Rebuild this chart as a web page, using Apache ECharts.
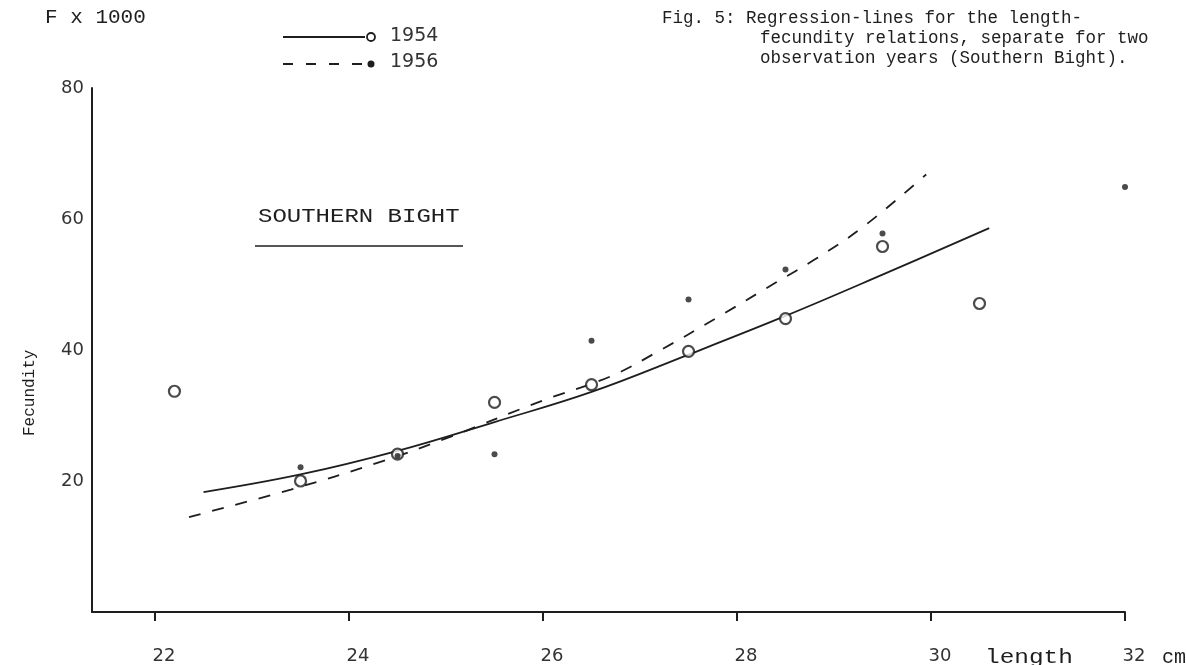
<!DOCTYPE html>
<html>
<head>
<meta charset="utf-8">
<script src="https://cdn.jsdelivr.net/npm/echarts@6/dist/echarts.min.js"></script>
<style>
html,body{margin:0;padding:0;background:#fff;}
#chart{width:1186px;height:665px;}
</style>
</head>
<body>
<div id="chart"></div>
<script>
// ---- data ----
const xTicks = [22, 24, 26, 28, 30, 32];
const yTicks = [20, 40, 60, 80];

// observed points, 1954 (open circles)
const obs1954X = [22.2, 23.5, 24.5, 25.5, 26.5, 27.5, 28.5, 29.5, 30.5];
const obs1954Y = [33.7, 20.0, 24.1, 32.0, 34.7, 39.8, 44.8, 55.8, 47.1];

// observed points, 1956 (dots)
const obs1956X = [23.5, 24.5, 25.5, 26.5, 27.5, 28.5, 29.5, 32.0];
const obs1956Y = [22.1, 23.8, 24.1, 41.4, 47.7, 52.3, 57.8, 64.9];

// regression line 1954 (solid)
const reg1954X = [22.5, 23.5, 24.5, 25.5, 26.5, 27.5, 28.5, 29.5, 30.6];
const reg1954Y = [18.3, 21.0, 24.6, 29.0, 33.6, 39.3, 45.2, 51.5, 58.6];

// regression line 1956 (dashed)
const reg1956X = [22.35, 23.4, 24.3, 25.0, 26.0, 26.7, 27.2, 27.8, 28.4, 28.8, 29.3, 29.95];
const reg1956Y = [14.5, 18.7, 22.8, 26.5, 32.3, 36.0, 39.9, 45.0, 50.3, 53.8, 58.8, 66.8];

const zip = (a, b) => a.map((v, i) => [v, b[i]]);

const INK = '#1e1e1e';
const MONO = '"Liberation Mono", "DejaVu Sans Mono", monospace';
const SANS = '"DejaVu Sans", "Liberation Sans", sans-serif';

const chart = echarts.init(document.getElementById('chart'), null, {renderer: 'canvas'});
chart.setOption({
  backgroundColor: '#ffffff',
  animation: false,
  grid: {left: 92, right: 61, top: 88, bottom: 53, containLabel: false},
  xAxis: {
    type: 'value', min: 21.35, max: 32,
    axisLine: {show: true, lineStyle: {color: INK, width: 2}},
    axisTick: {show: true, customValues: xTicks, length: 9, lineStyle: {color: INK, width: 2}},
    axisLabel: {customValues: xTicks, color: '#333', fontFamily: SANS, fontSize: 18, margin: 35, padding: [0, 0, 0, 18]},
    splitLine: {show: false}
  },
  yAxis: {
    type: 'value', min: 0, max: 80,
    axisLine: {show: true, lineStyle: {color: INK, width: 2}},
    axisTick: {show: false},
    axisLabel: {customValues: yTicks, color: '#333', fontFamily: SANS, fontSize: 18, margin: 8},
    splitLine: {show: false}
  },
  series: [
    {
      name: '1954 regression', type: 'line', data: zip(reg1954X, reg1954Y),
      smooth: 0.4, showSymbol: false, symbol: 'none',
      lineStyle: {color: INK, width: 1.8, type: 'solid'}, z: 2
    },
    {
      name: '1956 regression', type: 'line', data: zip(reg1956X, reg1956Y),
      smooth: 0.4, showSymbol: false, symbol: 'none',
      lineStyle: {color: INK, width: 1.8, type: [12, 12]}, z: 2
    },
    {
      name: '1954', type: 'scatter', data: zip(obs1954X, obs1954Y),
      symbol: 'circle', symbolSize: 11,
      itemStyle: {color: '#ffffff', borderColor: INK, borderWidth: 2.2}, z: 3
    },
    {
      name: '1956', type: 'scatter', data: zip(obs1956X, obs1956Y),
      symbol: 'circle', symbolSize: 6,
      itemStyle: {color: INK}, z: 4
    }
  ],
  graphic: [
    {type: 'text', x: 45, y: 8, scaleX: 1.05, style: {text: 'F x 1000', font: '20px ' + MONO, fill: INK}},
    {type: 'text', x: 662, y: 9, style: {text: 'Fig. 5: Regression-lines for the length-', font: '17.5px ' + MONO, fill: INK}},
    {type: 'text', x: 760, y: 29, style: {text: 'fecundity relations, separate for two', font: '17.5px ' + MONO, fill: INK}},
    {type: 'text', x: 760, y: 49, style: {text: 'observation years (Southern Bight).', font: '17.5px ' + MONO, fill: INK}},
    // legend
    {type: 'line', shape: {x1: 283, y1: 37, x2: 365, y2: 37}, style: {stroke: INK, lineWidth: 1.8}},
    {type: 'circle', shape: {cx: 371, cy: 37, r: 4}, style: {fill: '#fff', stroke: INK, lineWidth: 1.8}},
    {type: 'text', x: 390, y: 27, style: {text: '1954', font: '19px ' + SANS, fill: '#333'}},
    {type: 'line', shape: {x1: 283, y1: 64, x2: 365, y2: 64}, style: {stroke: INK, lineWidth: 1.8, lineDash: [10, 13]}},
    {type: 'circle', shape: {cx: 371, cy: 64, r: 3.5}, style: {fill: INK}},
    {type: 'text', x: 390, y: 53, style: {text: '1956', font: '19px ' + SANS, fill: '#333'}},
    // region label
    {type: 'text', x: 258, y: 207, scaleX: 1.2, style: {text: 'SOUTHERN BIGHT', font: '20px ' + MONO, fill: INK}},
    {type: 'line', shape: {x1: 255, y1: 246, x2: 463, y2: 246}, style: {stroke: INK, lineWidth: 1.5}},
    // axis names
    {type: 'text', x: 22, y: 436, rotation: Math.PI / 2, originX: 0, originY: 0, style: {text: 'Fecundity', font: '16px ' + MONO, fill: INK, align: 'left', verticalAlign: 'top'}},
    {type: 'text', x: 985, y: 648, scaleX: 1.22, style: {text: 'length', font: '20px ' + MONO, fill: INK}},
    {type: 'text', x: 1162, y: 648, style: {text: 'cm', font: '20px ' + MONO, fill: INK}}
  ]
});
</script>
</body>
</html>
